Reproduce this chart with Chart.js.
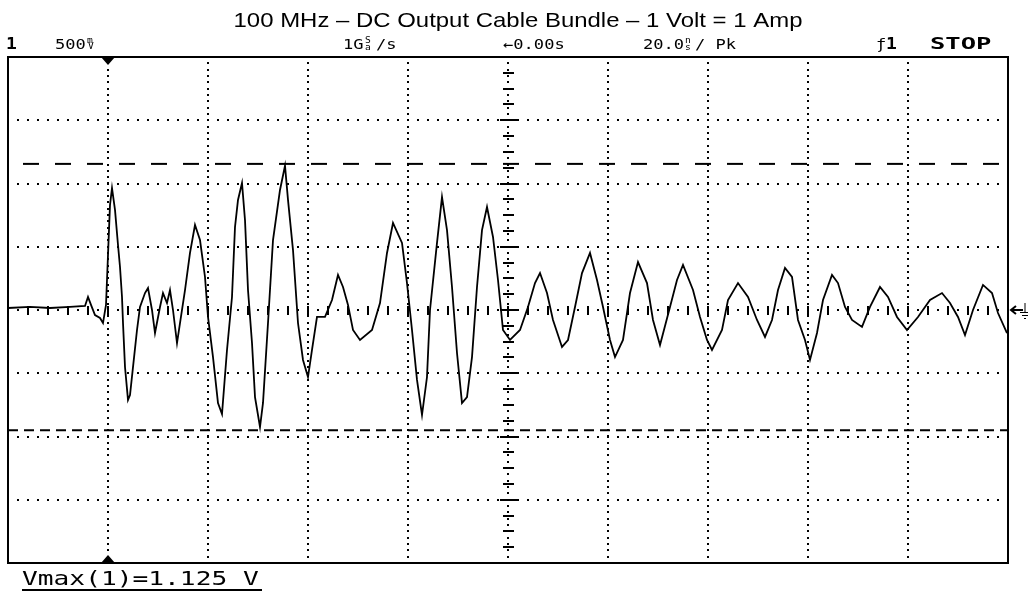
<!DOCTYPE html>
<html>
<head>
<meta charset="utf-8">
<title>100 MHz – DC Output Cable Bundle</title>
<script src="https://cdn.jsdelivr.net/npm/chart.js@4.4.1/dist/chart.umd.min.js"></script>
<style>
  html, body { margin: 0; padding: 0; background: #fff; }
  #wrap { width: 1028px; height: 592px; }
</style>
</head>
<body>
<div id="wrap"><canvas id="scope" width="1028" height="592"></canvas></div>
<script>
// 20 ns/div on x (10 divs), 500 mV/div on y (8 divs)
const xDivs = [-100, -80, -60, -40, -20, 0, 20, 40, 60, 80, 100];
const yDivs = [-2, -1.5, -1, -0.5, 0, 0.5, 1, 1.5, 2];

// trace: time in ns, level in volts
const timeNs = [
  -100, -95.6, -91.6, -87.6, -84.6, -84.0, -83.4, -82.6, -81.6, -81.0,
  -80.4, -80.0, -79.6, -79.2, -78.6, -78.0, -77.6, -77.2, -77.0, -76.6,
  -76.0, -75.6, -75.0, -74.2, -73.6, -72.6, -72.0, -71.2, -70.6, -69.6,
  -69.0, -68.2, -67.6, -67.0, -66.2, -65.6, -64.6, -63.6, -62.6, -61.6,
  -60.6, -60.0, -59.0, -58.0, -57.2, -56.2, -55.2, -54.6, -54.0, -53.2,
  -52.6, -52.0, -51.2, -50.6, -49.6, -49.0, -48.0, -47.0, -45.6, -44.6,
  -44.0, -43.0, -42.0, -41.0, -40.0, -39.2, -38.2, -36.6, -35.2, -34.0,
  -33.0, -32.0, -31.0, -29.6, -27.2, -25.6, -24.2, -23.0, -21.2, -20.2,
  -19.2, -18.2, -17.2, -16.2, -15.6, -14.2, -13.2, -12.2, -11.2, -10.2,
  -9.2, -8.2, -7.2, -6.2, -5.2, -4.2, -3.0, -2.0, -1.0, 0.4,
  2.4, 4.0, 5.4, 6.4, 7.8, 9.0, 10.8, 12.0, 13.4, 14.8,
  16.4, 17.8, 19.0, 20.4, 21.4, 23.0, 24.4, 26.0, 27.8, 29.0,
  30.4, 32.4, 33.8, 35.0, 37.0, 38.4, 39.8, 40.8, 42.8, 44.0,
  46.0, 48.0, 49.8, 51.4, 52.8, 54.0, 55.4, 56.8, 58.0, 59.4,
  60.4, 61.8, 63.0, 64.8, 66.0, 67.4, 68.8, 70.8, 72.4, 74.4,
  76.0, 77.8, 79.8, 82.0, 84.4, 86.8, 88.4, 90.0, 91.4, 93.0,
  95.0, 96.8, 98.0, 99.8
];
const volts = [
  0.016, 0.024, 0.016, 0.024, 0.032, 0.103, 0.040, -0.040, -0.063, -0.103,
  0.040, 0.435, 0.830, 0.964, 0.791, 0.514, 0.340, 0.103, -0.103, -0.451,
  -0.711, -0.672, -0.451, -0.158, 0.024, 0.134, 0.174, 0.000, -0.182, 0.024,
  0.134, 0.055, 0.158, 0.000, -0.261, -0.103, 0.158, 0.451, 0.672, 0.553,
  0.261, -0.055, -0.372, -0.735, -0.822, -0.316, 0.103, 0.656, 0.870, 1.004,
  0.711, 0.158, -0.261, -0.688, -0.925, -0.735, -0.103, 0.553, 0.949, 1.140,
  0.870, 0.474, -0.103, -0.395, -0.530, -0.316, -0.055, -0.055, 0.079, 0.277,
  0.182, 0.040, -0.158, -0.237, -0.158, 0.055, 0.451, 0.688, 0.530, 0.213,
  -0.158, -0.553, -0.830, -0.530, 0.000, 0.530, 0.893, 0.632, 0.182, -0.340,
  -0.735, -0.688, -0.372, 0.182, 0.632, 0.814, 0.577, 0.237, -0.158, -0.237,
  -0.158, 0.024, 0.213, 0.292, 0.134, -0.079, -0.292, -0.237, 0.024, 0.292,
  0.451, 0.237, 0.024, -0.237, -0.372, -0.237, 0.134, 0.379, 0.213, -0.079,
  -0.277, 0.024, 0.237, 0.356, 0.158, -0.055, -0.237, -0.316, -0.158, 0.079,
  0.213, 0.103, -0.079, -0.213, -0.079, 0.158, 0.332, 0.261, -0.079, -0.237,
  -0.395, -0.182, 0.079, 0.277, 0.213, 0.024, -0.079, -0.134, 0.024, 0.182,
  0.103, -0.055, -0.158, -0.055, 0.079, 0.134, 0.055, -0.055, -0.198, 0.000,
  0.198, 0.134, -0.024, -0.182
];

// measurement cursors (V)
const cursorHigh = 1.155;
const cursorLow = -0.95;
const triggerAt = -80;   // ns, marker on top/bottom edge

const traceData = timeNs.map((t, i) => ({ x: t, y: volts[i] }));
const edgeLine = v => [{ x: xDivs[0], y: v }, { x: xDivs[xDivs.length - 1], y: v }];

const MONO = '"DejaVu Sans Mono", "Liberation Mono", monospace';

// draw text stretched sideways like the scope's bitmap font
function wideText(ctx, str, x, y, font, sx, align) {
    ctx.save();
    ctx.font = font;
    ctx.textBaseline = 'alphabetic';
    ctx.textAlign = align || 'left';
    ctx.translate(x, y);
    ctx.scale(sx, 1);
    ctx.fillText(str, 0, 0);
    ctx.restore();
}

// dotted graticule + center axis ticks
const graticule = {
    id: 'graticule',
    beforeDatasetsDraw(chart) {
        const { ctx, scales: { x, y } } = chart;
        const x0 = xDivs[0], x1 = xDivs[xDivs.length - 1];
        const y0 = yDivs[0], y1 = yDivs[yDivs.length - 1];
        ctx.save();
        ctx.fillStyle = '#000';
        // dots on horizontal lines, 1/10 div apart
        yDivs.forEach(v => {
            const py = Math.round(y.getPixelForValue(v)) - 1;
            for (let t = x0 + 2; t < x1; t += 2) {
                ctx.fillRect(Math.round(x.getPixelForValue(t)) - 1, py, 2, 2);
            }
        });
        // dots on vertical lines
        xDivs.forEach(t => {
            const px = Math.round(x.getPixelForValue(t)) - 1;
            for (let v = y0 + 0.05; v < y1; v += 0.05) {
                ctx.fillRect(px, Math.round(y.getPixelForValue(v)) - 1, 2, 2);
            }
        });
        // center horizontal ticks, 1/5 div
        const cy = Math.round(y.getPixelForValue(0));
        for (let t = x0 + 4; t < x1; t += 4) {
            ctx.fillRect(Math.round(x.getPixelForValue(t)) - 1, cy - 4, 2, 9);
        }
        // center vertical ticks, 1/4 div
        const cx = Math.round(x.getPixelForValue(0));
        for (let k = 1; k < 32; k++) {
            const v = y0 + k * 0.125;
            const py = Math.round(y.getPixelForValue(v)) - 1;
            const half = (k % 4 === 0) ? 8 : 5;
            ctx.fillRect(cx - half, py, half * 2 + 1, 2);
        }
        ctx.restore();
    },
    afterDraw(chart) {
        const { ctx, chartArea: a, scales: { x, y } } = chart;
        ctx.save();
        // frame
        ctx.strokeStyle = '#000';
        ctx.lineWidth = 2;
        ctx.strokeRect(a.left, a.top, a.right - a.left, a.bottom - a.top);

        // trigger markers
        const tx = Math.round(x.getPixelForValue(triggerAt));
        ctx.fillStyle = '#000';
        ctx.beginPath();
        ctx.moveTo(tx - 7, a.top); ctx.lineTo(tx + 7, a.top); ctx.lineTo(tx, a.top + 8);
        ctx.closePath(); ctx.fill();
        ctx.beginPath();
        ctx.moveTo(tx - 7, a.bottom); ctx.lineTo(tx + 7, a.bottom); ctx.lineTo(tx, a.bottom - 8);
        ctx.closePath(); ctx.fill();

        // ground reference marker at right edge
        const gy = Math.round(y.getPixelForValue(0));
        const gx = a.right + 3;
        ctx.lineWidth = 2;
        ctx.beginPath();
        ctx.moveTo(gx, gy); ctx.lineTo(gx + 12, gy);
        ctx.moveTo(gx + 5, gy - 4); ctx.lineTo(gx, gy); ctx.lineTo(gx + 5, gy + 4);
        ctx.stroke();
        ctx.lineWidth = 1;
        ctx.beginPath();
        ctx.moveTo(gx + 14, gy - 7); ctx.lineTo(gx + 14, gy + 2);
        ctx.moveTo(gx + 9, gy + 2.5); ctx.lineTo(gx + 19, gy + 2.5);
        ctx.moveTo(gx + 11, gy + 5.5); ctx.lineTo(gx + 17, gy + 5.5);
        ctx.moveTo(gx + 13, gy + 8.5); ctx.lineTo(gx + 15, gy + 8.5);
        ctx.stroke();

        // title
        ctx.fillStyle = '#000';
        wideText(ctx, '100 MHz \u2013 DC Output Cable Bundle \u2013 1 Volt = 1 Amp', 518, 27,
                 '21px "Liberation Sans", Arial, sans-serif', 1.14, 'center');

        // status line
        const f = '14px ' + MONO;
        const small = '8px ' + MONO;
        const base = 49;
        wideText(ctx, '1', 6, base, 'bold 15px ' + MONO, 1.2);
        wideText(ctx, '500', 55, base, f, 1.22);
        wideText(ctx, 'm', 87, base - 6, small, 1.2);
        wideText(ctx, 'V', 88, base, small, 1.2);
        wideText(ctx, '1G', 343, base, f, 1.22);
        wideText(ctx, 'S', 365, base - 6, small, 1.2);
        wideText(ctx, 'a', 365, base + 1, small, 1.2);
        wideText(ctx, '/s', 376, base, f, 1.22);
        wideText(ctx, '\u21900.00s', 503, base, f, 1.22);
        wideText(ctx, '20.0', 643, base, f, 1.22);
        wideText(ctx, 'n', 685, base - 6, small, 1.2);
        wideText(ctx, 's', 685, base + 1, small, 1.2);
        wideText(ctx, '/ Pk', 695, base, f, 1.22);
        wideText(ctx, '\u0192', 876, base, f, 1.22);
        wideText(ctx, '1', 886, base, 'bold 15px ' + MONO, 1.2);
        wideText(ctx, 'STOP', 930, base, 'bold 15px ' + MONO, 1.7);

        // measurement readout
        wideText(ctx, 'Vmax(1)=1.125 V', 22, 585, '19px ' + MONO, 1.38);
        ctx.fillRect(22, 589, 240, 2);
        ctx.restore();
    }
};

new Chart(document.getElementById('scope'), {
    type: 'line',
    data: {
        datasets: [
            {
                label: 'Ch1',
                data: traceData,
                borderColor: '#000',
                borderWidth: 1.8,
                pointRadius: 0,
                tension: 0,
                order: 1
            },
            {
                label: 'Vmax cursor',
                data: edgeLine(cursorHigh),
                borderColor: '#000',
                borderWidth: 2,
                borderDash: [16, 16],
                borderDashOffset: 17,
                pointRadius: 0,
                order: 2
            },
            {
                label: 'Vmin cursor',
                data: edgeLine(cursorLow),
                borderColor: '#000',
                borderWidth: 2,
                borderDash: [10, 6],
                pointRadius: 0,
                order: 2
            }
        ]
    },
    options: {
        responsive: false,
        animation: false,
        devicePixelRatio: 1,
        layout: { padding: { left: 8, top: 57, right: 20, bottom: 29 } },
        scales: {
            x: { type: 'linear', min: xDivs[0], max: xDivs[xDivs.length - 1], display: false },
            y: { type: 'linear', min: yDivs[0], max: yDivs[yDivs.length - 1], display: false }
        },
        plugins: {
            legend: { display: false },
            tooltip: { enabled: false }
        }
    },
    plugins: [graticule]
});
</script>
</body>
</html>
